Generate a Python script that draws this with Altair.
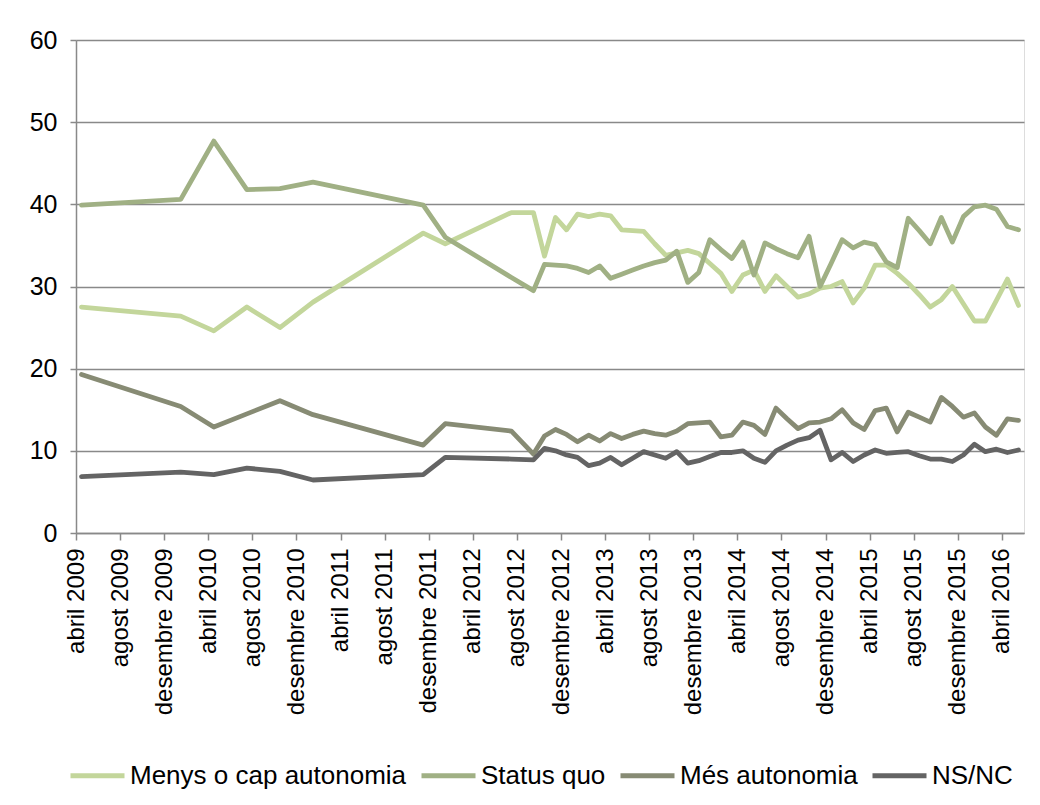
import json
import altair as alt
import pandas as pd

# Survey waves (year-month)
dates = [
    "2009-04", "2010-01", "2010-04", "2010-07", "2010-10", "2011-01", "2011-11", "2012-01", "2012-07",
    "2012-09", "2012-10", "2012-11", "2012-12",
    "2013-01", "2013-02", "2013-03", "2013-04", "2013-05", "2013-06", "2013-07", "2013-08", "2013-09", "2013-10", "2013-11", "2013-12",
    "2014-01", "2014-02", "2014-03", "2014-04", "2014-05", "2014-06", "2014-07", "2014-08", "2014-09", "2014-10", "2014-11", "2014-12",
    "2015-01", "2015-02", "2015-03", "2015-04", "2015-05", "2015-06", "2015-07", "2015-08", "2015-09", "2015-10", "2015-11", "2015-12",
    "2016-01", "2016-02", "2016-03", "2016-04", "2016-05",
]

menys = [
    27.5, 26.4, 24.6, 27.5, 25.0, 28.1, 36.5, 35.2, 39.0,
    39.0, 33.7, 38.4, 36.9,
    38.8, 38.5, 38.8, 38.6, 36.9, 36.8, 36.7, 35.2, 33.8, 34.1, 34.4, 34.0,
    32.8, 31.6, 29.4, 31.4, 32.0, 29.4, 31.3, 30.0, 28.7, 29.1, 29.8, 30.0,
    30.6, 28.0, 29.8, 32.6, 32.6, 31.6, 30.4, 29.0, 27.5, 28.4, 30.0, 27.9,
    25.8, 25.8, 28.3, 30.9, 27.7,
]

status_quo = [
    39.9, 40.6, 47.7, 41.8, 41.9, 42.7, 39.9, 36.0, 31.1,
    29.5, 32.7, 32.6, 32.5,
    32.2, 31.7, 32.5, 31.0, 31.5, 32.0, 32.5, 32.9, 33.2, 34.3, 30.5, 31.7,
    35.7, 34.5, 33.4, 35.4, 31.4, 35.3, 34.6, 34.0, 33.5, 36.1, 30.0, 32.8,
    35.7, 34.7, 35.4, 35.1, 33.0, 32.3, 38.3, 36.8, 35.2, 38.4, 35.4, 38.5,
    39.7, 39.9, 39.4, 37.3, 36.9,
]

mes_autonomia = [
    19.3, 15.4, 12.9, 14.5, 16.1, 14.4, 10.7, 13.3, 12.4,
    9.6, 11.8, 12.6, 12.0,
    11.1, 11.9, 11.2, 12.1, 11.5, 12.0, 12.4, 12.1, 11.9, 12.4, 13.3, 13.4,
    13.5, 11.7, 11.9, 13.5, 13.1, 12.0, 15.2, 13.9, 12.7, 13.4, 13.5, 13.9,
    15.0, 13.4, 12.6, 14.9, 15.2, 12.3, 14.7, 14.1, 13.5, 16.5, 15.4, 14.1,
    14.6, 12.9, 11.9, 13.9, 13.7,
]

ns_nc = [
    6.85, 7.4, 7.1, 7.9, 7.5, 6.45, 7.1, 9.2, 9.0,
    8.9, 10.3, 10.0, 9.5,
    9.2, 8.2, 8.5, 9.2, 8.3, 9.1, 9.9, 9.5, 9.1, 9.9, 8.5, 8.8,
    9.3, 9.8, 9.8, 10.0, 9.1, 8.6, 10.0, 10.7, 11.3, 11.6, 12.5, 8.9,
    9.8, 8.7, 9.5, 10.1, 9.7, 9.8, 9.9, 9.4, 9.0, 9.0, 8.7, 9.5,
    10.8, 9.9, 10.2, 9.8, 10.1,
]

series_names = ["Menys o cap autonomia", "Status quo", "Més autonomia", "NS/NC"]
series_colors = ["#C3D69B", "#A0B084", "#878B74", "#646464"]
month_names = ["gener", "febrer", "març", "abril", "maig", "juny", "juliol",
               "agost", "setembre", "octubre", "novembre", "desembre"]
tick_months = list(range(0, 85, 4))  # abril 2009 ... abril 2016, every 4 months
y_ticks = [0, 10, 20, 30, 40, 50, 60]


def month_index(s):
    y, m = map(int, s.split("-"))
    return (y - 2009) * 12 + (m - 4) + 0.5


rows = []
for name, vals in zip(series_names, [menys, status_quo, mes_autonomia, ns_nc]):
    for i, (d, v) in enumerate(zip(dates, vals)):
        rows.append({"serie": name, "mes": month_index(d), "valor": v, "ordre": i})
df = pd.DataFrame(rows)

label_expr = (json.dumps(month_names, ensure_ascii=False)
              + "[(datum.value + 3) % 12] + ' ' + (2009 + floor((datum.value + 3) / 12))")

FONT = "Liberation Sans"
GRAY = "#898989"

chart = alt.Chart(df).mark_line(strokeWidth=4.8, strokeJoin="round", strokeCap="round").encode(
    x=alt.X("mes:Q",
            scale=alt.Scale(domain=[0, 86], nice=False, zero=False),
            axis=alt.Axis(values=tick_months, labelExpr=label_expr, labelAngle=-90,
                          labelAlign="right", labelBaseline="middle", labelPadding=8,
                          labelFontSize=24, labelFont=FONT, labelColor="#000000",
                          tickSize=7, tickColor=GRAY, tickWidth=1.5,
                          domainColor=GRAY, domainWidth=1.5, grid=False, title=None,
                          labelOverlap=False, labelLimit=300)),
    y=alt.Y("valor:Q",
            scale=alt.Scale(domain=[0, 60], nice=False),
            axis=alt.Axis(values=y_ticks, labelFontSize=25, labelFont=FONT, labelColor="#000000",
                          labelPadding=13, tickSize=6, tickColor=GRAY, tickWidth=1.5,
                          domainColor=GRAY, domainWidth=1.5, grid=True, gridColor=GRAY,
                          gridWidth=1.4, title=None)),
    color=alt.Color("serie:N",
                    scale=alt.Scale(domain=series_names, range=series_colors),
                    legend=alt.Legend(orient="none", legendX=-8, legendY=706,
                                      direction="horizontal", title=None,
                                      symbolType="stroke", symbolSize=2916,
                                      symbolStrokeWidth=5, labelFontSize=26,
                                      labelFont=FONT, labelColor="#000000",
                                      labelOffset=3, columnPadding=4, labelLimit=400)),
    order="ordre:Q",
).properties(
    width=948,
    height=493,
    autosize=alt.AutoSizeParams(type="none"),
    padding={"left": 68, "top": 32, "right": 8, "bottom": 262},
).configure_view(strokeWidth=0).configure(background="#ffffff")

chart.save("out.html", embed_options={"renderer": "svg", "actions": False})
